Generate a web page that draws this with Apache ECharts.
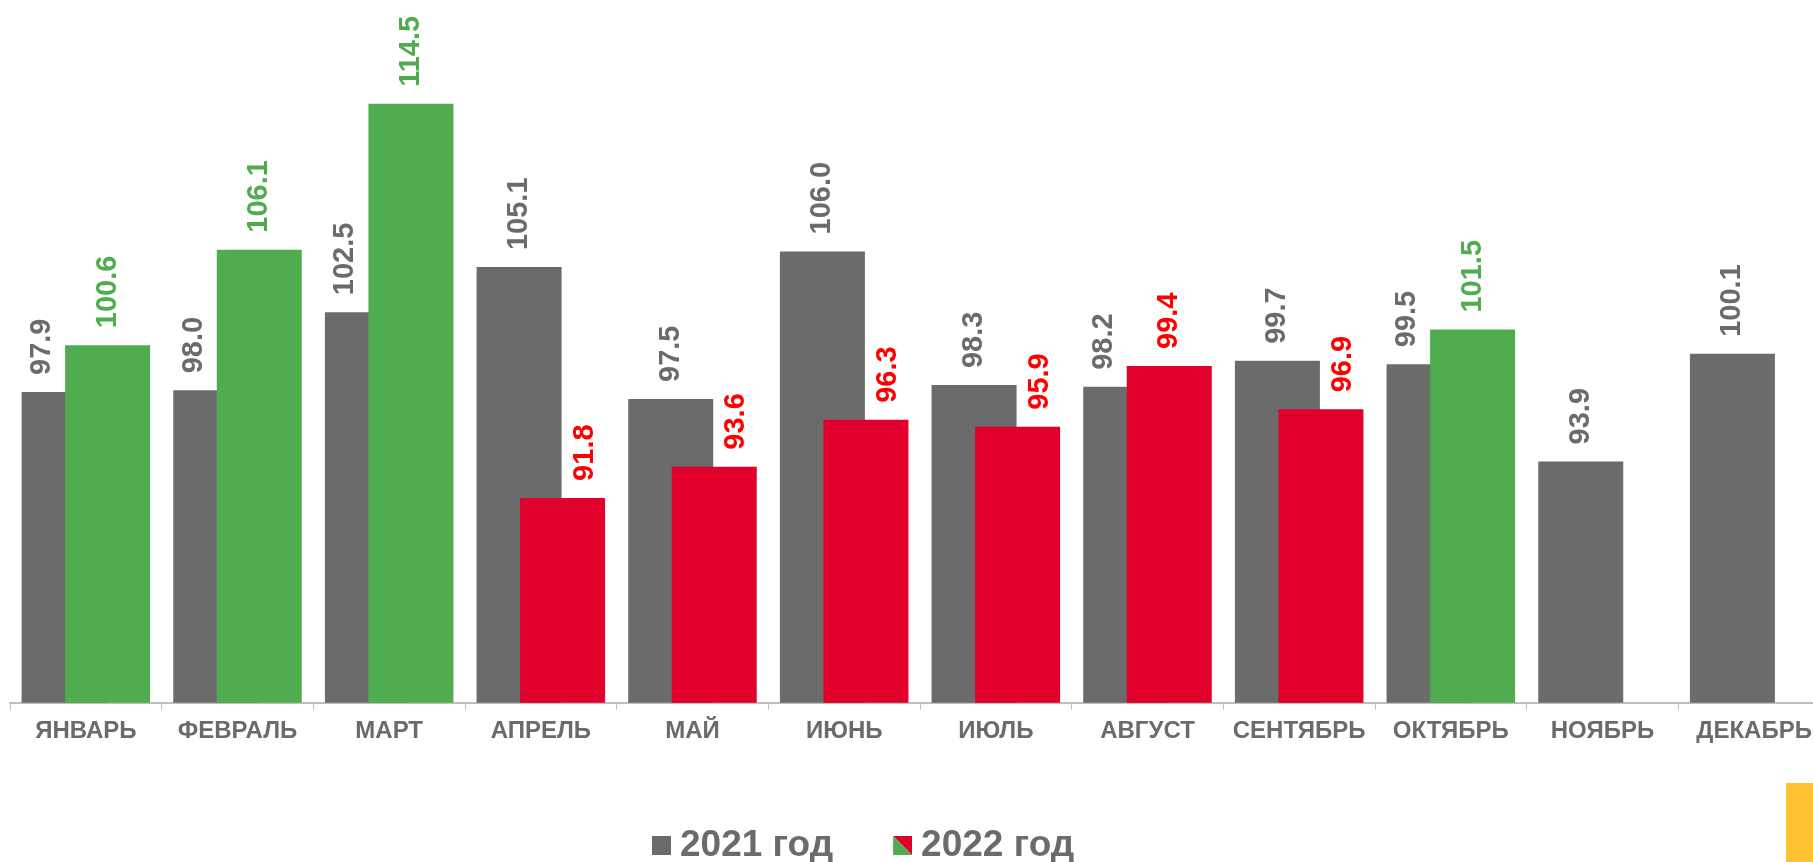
<!DOCTYPE html>
<html>
<head>
<meta charset="utf-8">
<script src="https://cdn.jsdelivr.net/npm/echarts@6/dist/echarts.min.js"></script>
<style>
  html, body { margin: 0; padding: 0; background: #fff; }
  #chart { width: 1813px; height: 862px; }
</style>
</head>
<body>
<div id="chart"></div>
<script>
// данные
const months = ['ЯНВАРЬ', 'ФЕВРАЛЬ', 'МАРТ', 'АПРЕЛЬ', 'МАЙ', 'ИЮНЬ', 'ИЮЛЬ', 'АВГУСТ', 'СЕНТЯБРЬ', 'ОКТЯБРЬ', 'НОЯБРЬ', 'ДЕКАБРЬ']
const values2021 = [97.9, 98.0, 102.5, 105.1, 97.5, 106.0, 98.3, 98.2, 99.7, 99.5, 93.9, 100.1]
const values2022 = [100.6, 106.1, 114.5, 91.8, 93.6, 96.3, 95.9, 99.4, 96.9, 101.5, null, null]
const seriesNames = ['2021 год', '2022 год']

const GRAY = '#6b6b6b'
const GREEN = '#4fad4f'
const RED_BAR = '#e0002b'
const RED_TEXT = '#ff0000'
const FONT = "'Liberation Sans', Arial, sans-serif"

const icon2022 = 'image://data:image/svg+xml;charset=utf-8,' + encodeURIComponent(
  "<svg xmlns='http://www.w3.org/2000/svg' width='20' height='20'>" +
  "<polygon points='0,0 20,0 20,20' fill='" + RED_BAR + "'/>" +
  "<polygon points='0,0 0,20 20,20' fill='" + GREEN + "'/></svg>"
)

const valueLabel = {
  show: true,
  position: 'top',
  rotate: 90,
  align: 'left',
  verticalAlign: 'middle',
  distance: 17,
  fontFamily: FONT,
  fontWeight: 'bold',
  fontSize: 29,
  formatter: (p) => p.value.toFixed(1),
}

// подпись серого столбца уходит влево, если столбец 2022 выше
const data2021 = values2021.map((v, i) => ({
  value: v,
  label: { offset: values2022[i] != null && values2022[i] > v ? [0, -22] : [0, 0] },
}))

const data2022 = values2022.map((v, i) => {
  if (v == null) return '-'
  const up = v >= 100
  return {
    value: v,
    itemStyle: { color: up ? GREEN : RED_BAR },
    label: { color: up ? GREEN : RED_TEXT, offset: v < values2021[i] ? [0, 22] : [0, 0] },
  }
})

const chart = echarts.init(document.getElementById('chart'))

chart.setOption({
  animation: false,
  backgroundColor: '#fff',
  grid: { left: 10, width: 1820, top: 8.4, bottom: 159.3, outerBoundsMode: 'none', containLabel: false },
  legend: {
    left: 652,
    top: 827,
    padding: 0,
    itemWidth: 19,
    itemHeight: 19,
    itemGap: 60,
    textStyle: {
      color: GRAY,
      fontFamily: FONT,
      fontWeight: 'bold',
      fontSize: 37,
      padding: [0, 0, 0, 4],
    },
    data: [
      { name: seriesNames[0], icon: 'rect' },
      { name: seriesNames[1], icon: icon2022 },
    ],
  },
  xAxis: {
    type: 'category',
    data: months,
    axisLine: { lineStyle: { color: '#bfbfbf', width: 2 } },
    axisTick: { show: true, length: 7, lineStyle: { color: '#bfbfbf', width: 1 } },
    axisLabel: {
      interval: 0,
      margin: 17,
      color: GRAY,
      fontFamily: FONT,
      fontWeight: 'bold',
      fontSize: 24,
    },
  },
  yAxis: {
    type: 'value',
    min: 80,
    max: 120,
    show: false,
    splitLine: { show: false },
  },
  series: [
    {
      name: seriesNames[0],
      type: 'bar',
      data: data2021,
      barWidth: 85,
      barGap: '-48.8%',
      itemStyle: { color: GRAY },
      label: { ...valueLabel, color: GRAY },
    },
    {
      name: seriesNames[1],
      type: 'bar',
      data: data2022,
      barWidth: 85,
      barGap: '-48.8%',
      itemStyle: { color: GREEN },
      label: { ...valueLabel, color: GREEN },
    },
  ],
  graphic: [
    {
      type: 'rect',
      right: 0,
      bottom: 0,
      shape: { width: 27, height: 79 },
      style: { fill: '#ffc12f' },
    },
  ],
})

window.addEventListener('resize', () => chart.resize())
</script>
</body>
</html>
